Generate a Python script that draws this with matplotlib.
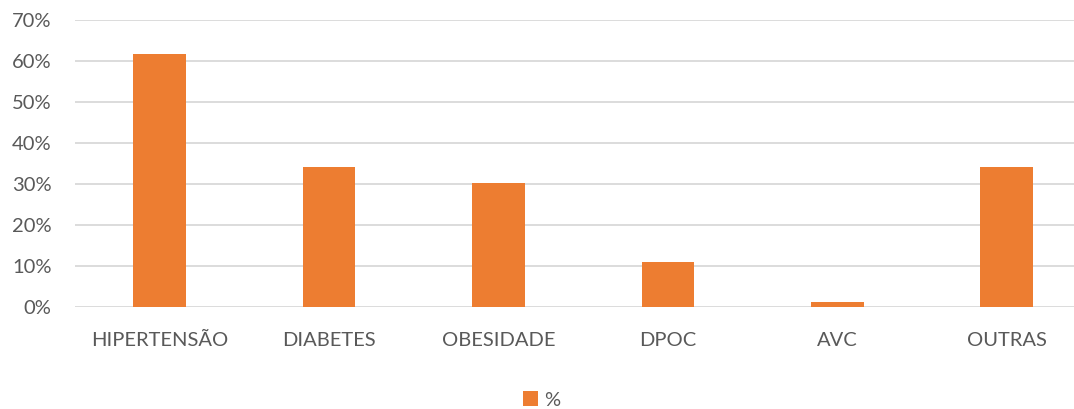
import matplotlib.pyplot as plt
import numpy as np

plt.rcParams.update({'font.family': ['Lato', 'DejaVu Sans']})

categorias = ["HIPERTENSÃO", "DIABETES", "OBESIDADE", "DPOC", "AVC", "OUTRAS"]
valores = [61.7, 34.2, 30.2, 11.0, 1.3, 34.2]
yticks = [0, 10, 20, 30, 40, 50, 60, 70]

cor_barra = "#ED7D31"
cor_texto = "#595959"
cor_grade = "#D9D9D9"

fig = plt.figure(figsize=(10.74, 4.09), dpi=100)
# area do grafico em coordenadas da figura
ax = fig.add_axes([75 / 1074, 1 - 307 / 409, 1 - 75 / 1074, 287 / 409])

x = np.arange(len(categorias))
ax.bar(x, valores, width=0.31, color=cor_barra, label="%", zorder=3)

ax.set_ylim(0, 70)
ax.set_xlim(-0.5, (1074 - 75) / 169.4 - 0.5)
ax.set_yticks(yticks)
ax.set_yticklabels(["%d%%" % v for v in yticks])
ax.set_xticks(x)
ax.set_xticklabels(categorias)
ax.grid(axis="y", color=cor_grade, linewidth=1.3, zorder=0)
ax.tick_params(axis="both", length=0, labelsize=14.5, colors=cor_texto)
ax.tick_params(axis="x", pad=18)
ax.tick_params(axis="y", pad=17)
for s in ax.spines.values():
    s.set_visible(False)

fig.legend(loc="center", bbox_to_anchor=(542 / 1074, 1 - 400 / 409), frameon=False,
           fontsize=14.5, labelcolor=cor_texto, handlelength=0.75, handleheight=0.75,
           handletextpad=0.3)

plt.savefig("out.png")
